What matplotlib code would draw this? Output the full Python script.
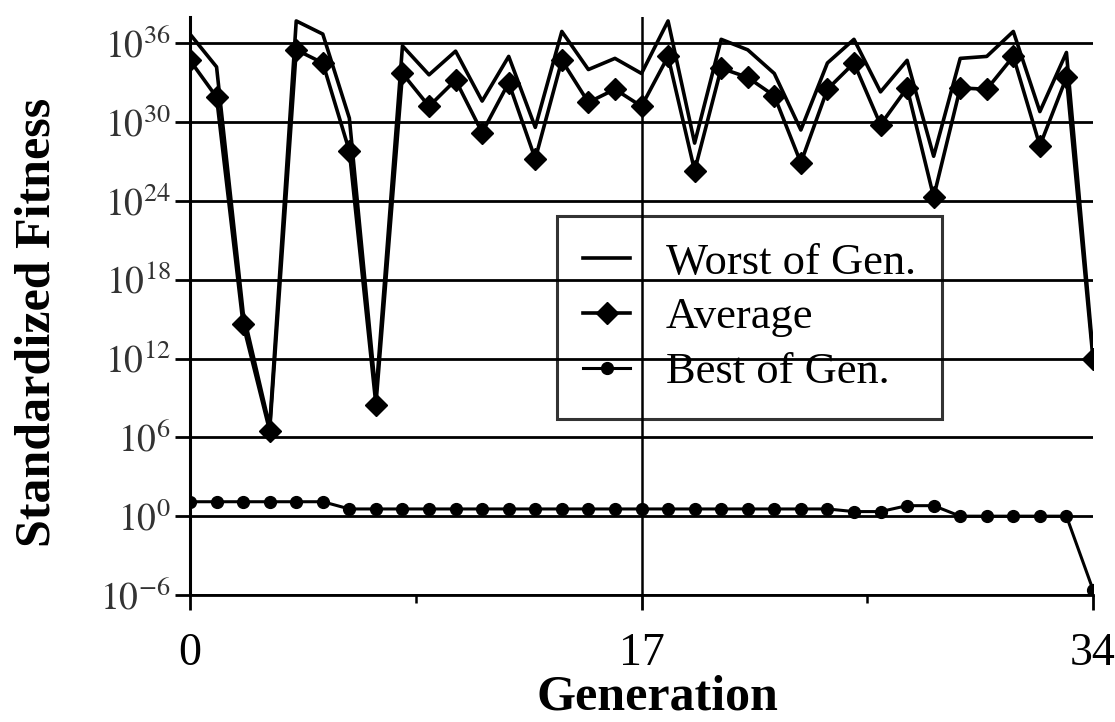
import numpy as np
import matplotlib
matplotlib.use('Agg')
import matplotlib.pyplot as plt
from matplotlib.ticker import FixedLocator, FixedFormatter

plt.rcParams['font.family'] = ['Liberation Serif', 'DejaVu Serif']
plt.rcParams['mathtext.fontset'] = 'stix'

# generations
gens = list(range(35))

worst_exp = [36.7, 34.2, 15.5, 6.8, 37.7, 36.7, 30.3, 9.2, 35.8, 33.6,
             35.4, 31.6, 35.0, 29.6, 36.9, 34.0, 34.85, 33.7, 37.7, 28.4,
             36.3, 35.5, 33.7, 29.4, 34.5, 36.3, 32.3, 34.7, 27.4, 34.85,
             35.0, 36.9, 30.8, 35.3, 12.4]
avg_exp = [34.7, 31.9, 14.6, 6.5, 35.5, 34.5, 27.8, 8.5, 33.7, 31.2,
           33.2, 29.2, 33.0, 27.2, 34.7, 31.5, 32.5, 31.2, 35.0, 26.3,
           34.1, 33.4, 32.0, 26.9, 32.5, 34.5, 29.8, 32.6, 24.3, 32.6,
           32.5, 35.0, 28.2, 33.4, 12.0]
best_exp = [1.1, 1.1, 1.1, 1.1, 1.1, 1.1, 0.55, 0.55, 0.55, 0.55,
            0.55, 0.55, 0.55, 0.55, 0.55, 0.55, 0.55, 0.55, 0.55, 0.55,
            0.55, 0.55, 0.55, 0.55, 0.55, 0.35, 0.35, 0.8, 0.8, 0.0,
            0.0, 0.0, 0.0, 0.0, -5.6]

y_ticks_exp = [-6, 0, 6, 12, 18, 24, 30, 36]
x_ticks = [0, 17, 34]
x_minor = [8.5, 25.5]

worst = 10.0 ** np.array(worst_exp)
avg = 10.0 ** np.array(avg_exp)
best = 10.0 ** np.array(best_exp)

fig = plt.figure(figsize=(11.15, 7.22), dpi=100)
W, H = 1115, 722
ax = fig.add_axes([190 / W, 1 - 595 / H, 903 / W, 578 / H])
ax.set_yscale('log')

# horizontal grid lines and the line at generation 17
for e in y_ticks_exp:
    ax.axhline(10.0 ** e, color='black', lw=2.0, zorder=1)
ax.axvline(17, color='black', lw=1.8, zorder=1)

ax.plot(gens, worst, color='black', lw=2.6, label='Worst of Gen.', zorder=3)
ax.plot(gens, avg, color='black', lw=2.6, marker='D', markersize=11,
        label='Average', zorder=3)
ax.plot(gens, best, color='black', lw=2.2, marker='o', markersize=8.5,
        label='Best of Gen.', zorder=3)

ax.set_xlim(0, 34)
ax.set_ylim(1e-6, 1e38)

ax.xaxis.set_major_locator(FixedLocator(x_ticks))
ax.xaxis.set_minor_locator(FixedLocator(x_minor))
ax.yaxis.set_major_locator(FixedLocator([10.0 ** e for e in y_ticks_exp]))
ax.yaxis.set_major_formatter(FixedFormatter(['$10^{%d}$' % e for e in y_ticks_exp]))
ax.yaxis.set_minor_locator(FixedLocator([]))

ax.tick_params(axis='x', which='major', direction='out', length=11, width=2.0,
               labelsize=33, pad=16)
ax.tick_params(axis='x', which='minor', direction='out', length=6, width=1.8)
ax.tick_params(axis='y', which='major', direction='out', length=11, width=2.0,
               labelsize=27, pad=3, labelcolor='#333333')

for s in ['top', 'right']:
    ax.spines[s].set_visible(False)
ax.spines['left'].set_linewidth(2.2)
ax.spines['bottom'].set_linewidth(2.0)

leg = ax.legend(loc='upper left', bbox_to_anchor=(0.406, 0.656), borderaxespad=0,
                fontsize=32, frameon=True, fancybox=False, handlelength=1.05,
                handletextpad=0.8, labelspacing=0.33, borderpad=0.6)
leg.get_frame().set_facecolor('none')
leg.get_frame().set_edgecolor('black')
leg.get_frame().set_linewidth(2.2)

fig.text(38 / W, 1 - 322 / H, 'Standardized Fitness', rotation=90, ha='center',
         va='center', fontsize=36, fontweight='bold')
fig.text(657 / W, 1 - 698 / H, 'Generation', ha='center', va='center',
         fontsize=36, fontweight='bold')

fig.savefig('out.png', dpi=100)
